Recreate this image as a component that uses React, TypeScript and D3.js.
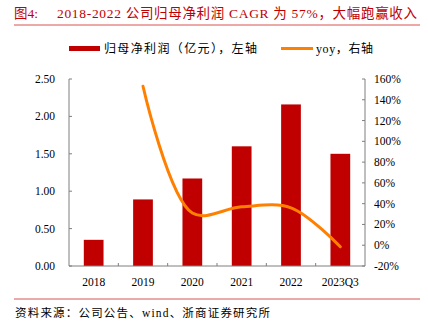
import React from "react";
import * as d3 from "d3";

const categories = ["2018", "2019", "2020", "2021", "2022", "2023Q3"];
const profit = [0.35, 0.89, 1.17, 1.6, 2.16, 1.5];
const yoyCats = ["2019", "2020", "2021", "2022", "2023Q3"];
const yoy = [1.53, 0.31, 0.37, 0.36, -0.015];
const leftTicks = [0, 0.5, 1, 1.5, 2, 2.5];
const rightTicks = [-0.2, 0, 0.2, 0.4, 0.6, 0.8, 1.0, 1.2, 1.4, 1.6];

const titleLabel = "图4:";
const title = "2018-2022 公司归母净利润 CAGR 为 57%，大幅跑赢收入";
const source = "资料来源：公司公告、wind、浙商证券研究所";
const legendBar = "归母净利润（亿元），左轴";
const legendLine = "yoy，右轴";

const FONT = "'Liberation Serif', 'Noto Sans CJK SC', serif";

export default function App() {
  const W = 428, H = 325;
  const left = 69, right = 365, top = 79, bottom = 266;
  const x = d3.scaleBand().domain(categories).range([left, right]).paddingInner(0.6).paddingOuter(0.3);
  const xb = d3.scaleBand().domain(categories).range([left, right]);
  const yL = d3.scaleLinear().domain([0, 2.5]).range([bottom, top]);
  const yR = d3.scaleLinear().domain([-0.2, 1.6]).range([bottom, top]);
  const line = d3
    .line<number>()
    .x((_, i) => (xb(yoyCats[i]) as number) + xb.bandwidth() / 2)
    .y((d) => yR(d))
    .curve(d3.curveCatmullRom.alpha(0.5));
  const axisColor = "#7f7f7f";
  const red = "#c00000";
  return (
    <svg width={W} height={H} style={{ position: "absolute", left: 0, top: 0 }} fontFamily={FONT}>
      <rect width={W} height={H} fill="#fff" />
      <text x={14} y={18} fontSize={13.5} fill="#c00000">{titleLabel}</text>
      <text x={57} y={18} fontSize={13.5} fill="#c00000" textLength={360} lengthAdjust="spacing">{title}</text>
      <line x1={14} x2={420} y1={25} y2={25} stroke="#d9534f" strokeWidth={1} />
      {/* legend */}
      <rect x={69} y={46} width={31} height={5} fill={red} />
      <text x={104} y={53} fontSize={12} fill="#000" textLength={153} lengthAdjust="spacing">{legendBar}</text>
      <line x1={281} x2={313} y1={48.5} y2={48.5} stroke="#ff8000" strokeWidth={3} />
      <text x={316} y={53} fontSize={12} fill="#000" textLength={57} lengthAdjust="spacing">{legendLine}</text>
      {/* bars */}
      {profit.map((v, i) => (
        <rect key={i} x={x(categories[i])} y={yL(v)} width={x.bandwidth()} height={bottom - yL(v)} fill={red} />
      ))}
      {/* axes */}
      <line x1={left} x2={left} y1={top} y2={bottom} stroke={axisColor} />
      <line x1={right} x2={right} y1={top} y2={bottom} stroke={axisColor} />
      <line x1={left} x2={right} y1={bottom} y2={bottom} stroke={axisColor} />
      {leftTicks.map((t) => (
        <g key={"l" + t}>
          <line x1={left} x2={left + 3} y1={yL(t)} y2={yL(t)} stroke={axisColor} />
          <text x={55} y={yL(t) + 4} fontSize={11.5} textAnchor="end" fill="#000">{t.toFixed(2)}</text>
        </g>
      ))}
      {rightTicks.map((t) => (
        <g key={"r" + t}>
          <line x1={right - 3} x2={right} y1={yR(t)} y2={yR(t)} stroke={axisColor} />
          <text x={374} y={yR(t) + 4} fontSize={11.5} fill="#000">{Math.round(t * 100) + "%"}</text>
        </g>
      ))}
      {categories.slice(1).map((c) => (
        <line key={"x" + c} x1={xb(c)} x2={xb(c)} y1={bottom} y2={bottom - 3} stroke={axisColor} />
      ))}
      {categories.map((c) => (
        <text key={"t" + c} x={(xb(c) as number) + xb.bandwidth() / 2} y={286} fontSize={11.5} textAnchor="middle" fill="#000">{c}</text>
      ))}
      <path d={line(yoy) || ""} fill="none" stroke="#ff8000" strokeWidth={3} strokeLinecap="round" />
      <line x1={14} x2={420} y1={299} y2={299} stroke="#d9534f" strokeWidth={1} />
      <text x={15} y={317} fontSize={11.5} fill="#000" textLength={255} lengthAdjust="spacing">{source}</text>
    </svg>
  );
}
